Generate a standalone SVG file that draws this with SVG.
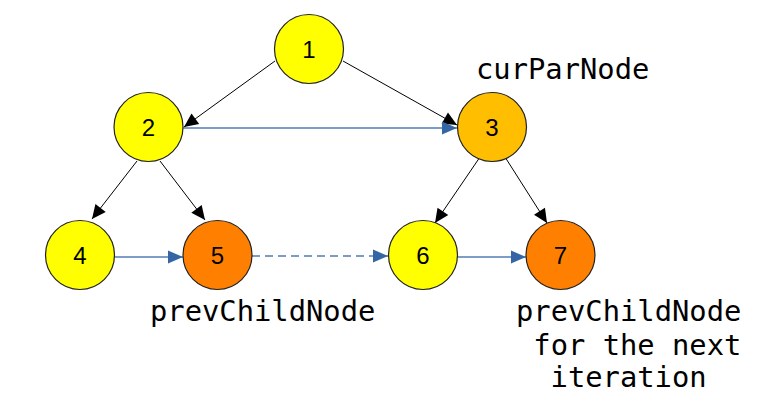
<svg xmlns="http://www.w3.org/2000/svg" width="776" height="419" viewBox="0 0 776 419">
  <style>
    .node circle { stroke: #222; stroke-width: 1.2; }
    .num { font-family: "Liberation Sans", Arial, sans-serif; font-size: 24px; text-anchor: middle; fill: #000; }
    .lbl { font-family: "DejaVu Sans Mono", monospace; font-size: 28.8px; fill: #000; }
    .blk { stroke: #000; stroke-width: 1; fill: none; marker-end: url(#ab); }
    .blu { stroke: #3465a4; stroke-width: 1.3; fill: none; marker-end: url(#au); stroke-opacity: 0.85; }
  </style>
  <defs>
    <marker id="ab" markerUnits="userSpaceOnUse" markerWidth="16" markerHeight="16" viewBox="0 0 16 16" refX="15" refY="8" orient="auto">
      <path d="M1,1.5 L15,8 L1,14.5 Z" fill="#000"/>
    </marker>
    <marker id="au" markerUnits="userSpaceOnUse" markerWidth="16" markerHeight="16" viewBox="0 0 16 16" refX="15" refY="8" orient="auto">
      <path d="M0,1.5 L15,8 L0,14.5 Z" fill="#3465a4"/>
    </marker>
  </defs>
  <rect width="776" height="419" fill="#fff"/>
  <g id="connectors">
    <line class="blk" x1="275" y1="61" x2="184" y2="127"/>
    <line class="blk" x1="343" y1="61" x2="457" y2="125"/>
    <line class="blu" x1="183" y1="128" x2="457" y2="128"/>
    <line class="blk" x1="137" y1="161" x2="92" y2="219"/>
    <line class="blk" x1="160" y1="161" x2="205" y2="220"/>
    <line class="blk" x1="480" y1="157" x2="435" y2="223"/>
    <line class="blk" x1="505" y1="157" x2="547" y2="223"/>
    <line class="blu" x1="115" y1="257" x2="183" y2="257"/>
    <line class="blu" x1="252" y1="256" x2="388" y2="256" stroke-dasharray="8,5"/>
    <line class="blu" x1="458" y1="257" x2="526" y2="257"/>
  </g>
  <g id="node1" class="node"><circle cx="309" cy="49" r="34.5" fill="#ffff00"/><text class="num" x="309" y="57.5">1</text></g>
  <g id="node2" class="node"><circle cx="148.5" cy="127" r="34.5" fill="#ffff00"/><text class="num" x="148.5" y="135.5">2</text></g>
  <g id="node3" class="node"><circle cx="492" cy="127" r="34.5" fill="#ffbf00"/><text class="num" x="492" y="135.5">3</text></g>
  <g id="node4" class="node"><circle cx="80" cy="255" r="34.5" fill="#ffff00"/><text class="num" x="80" y="263.5">4</text></g>
  <g id="node5" class="node"><circle cx="217.5" cy="255" r="34.5" fill="#ff8000"/><text class="num" x="217.5" y="263.5">5</text></g>
  <g id="node6" class="node"><circle cx="423" cy="255" r="34.5" fill="#ffff00"/><text class="num" x="423" y="263.5">6</text></g>
  <g id="node7" class="node"><circle cx="560.5" cy="255" r="34.5" fill="#ff8000"/><text class="num" x="560.5" y="263.5">7</text></g>
  <g id="labels">
    <text class="lbl" x="476" y="79">curParNode</text>
    <text class="lbl" x="150" y="321">prevChildNode</text>
    <text class="lbl" x="516" y="321">prevChildNode</text>
    <text class="lbl" x="533.3" y="355">for the next</text>
    <text class="lbl" x="550.6" y="387">iteration</text>
  </g>
</svg>
